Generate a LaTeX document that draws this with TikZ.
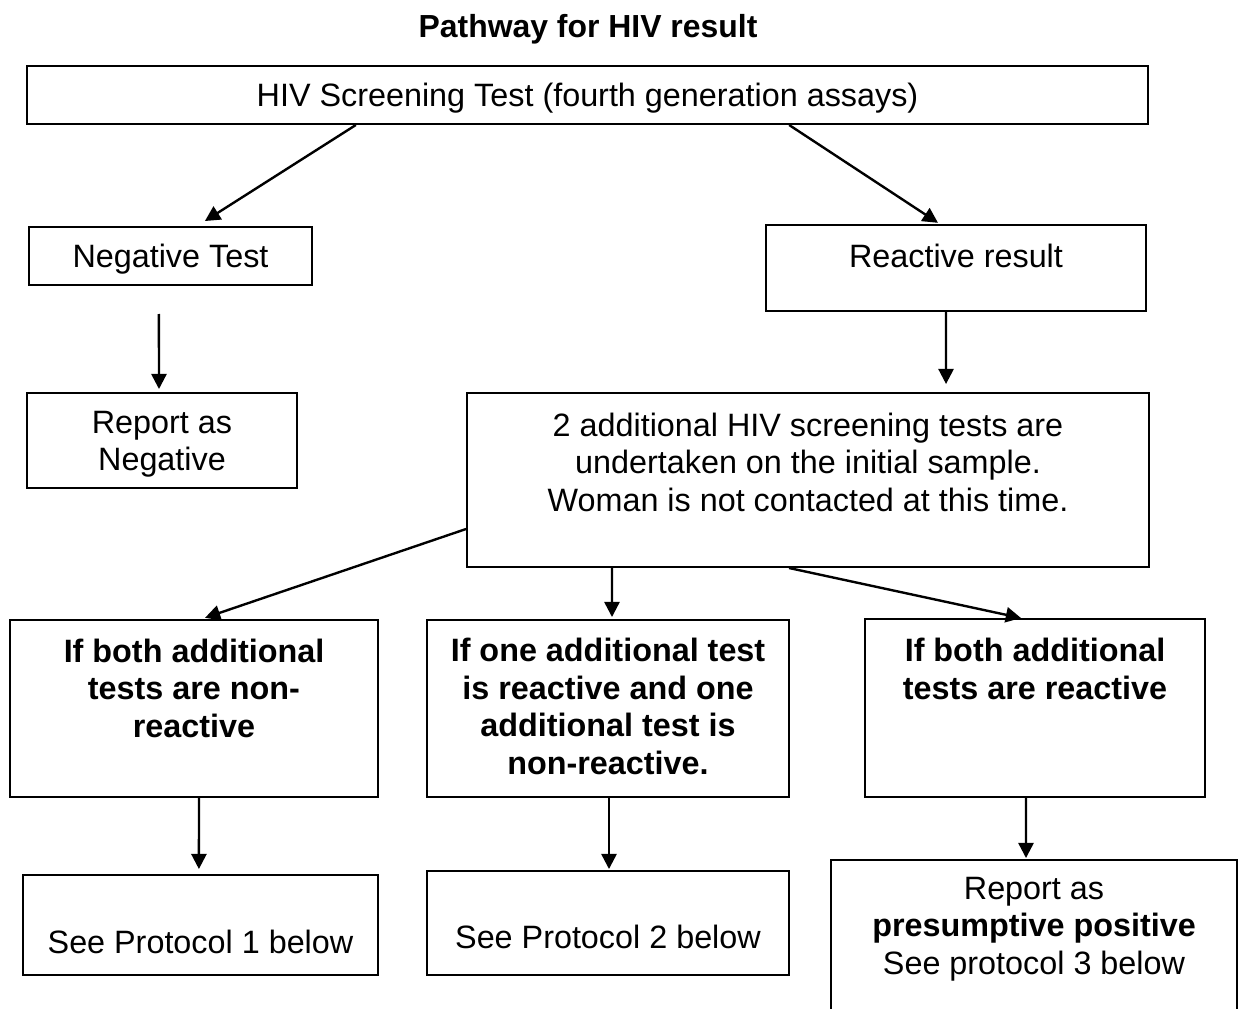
\documentclass[tikz,border=0pt]{standalone}
\usepackage{fontspec}
\setmainfont{Liberation Sans}
\usetikzlibrary{arrows.meta,positioning}

\begin{document}
\begin{tikzpicture}[
    x=0.025cm, y=-0.025cm,
    fbox/.style 2 args={
      rectangle, draw, line width=1.4pt, inner sep=0pt,
      minimum width=#1*0.025cm, minimum height=#2*0.025cm
    },
    txt/.style={align=center, inner sep=0pt, font=\fontsize{23}{26.7}\selectfont},
    btxt/.style={txt, font=\fontsize{23}{26.7}\selectfont\bfseries},
    arr/.style={-{Triangle[length=0.38cm,width=0.38cm]}, line width=1.7pt},
  ]
  \useasboundingbox (0,0) rectangle (1242,1008);

  %% --- title ---
  \node[font=\fontsize{22.7}{26}\selectfont\bfseries] (title) at (588,29) {Pathway for HIV result};

  %% --- screening ---
  \node[fbox={1121}{58}] (scr) at (587.5,95) {};
  \node[txt] (scrt) at (587.5,98) {HIV Screening Test (fourth generation assays)};

  \node[fbox={283}{58}] (neg) at (170.5,256) {};
  \node[txt] (negt) at (170.5,259) {Negative Test};
  \node[fbox={380}{86}] (rea) at (956,268) {};
  \node[txt] (reat) at (956,256) {Reactive result};

  \node[fbox={270}{95}] (rneg) at (162,440.5) {};
  \node[txt] (rnegt) at (162,444) {Report as\\Negative};
  \node[fbox={682}{174}] (add) at (808,480) {};
  \node[txt] (addt) at (808,462) {2 additional HIV screening tests are\\undertaken on the initial sample.\\Woman is not contacted at this time.};

  %% --- outcomes ---
  \node[fbox={368}{177}] (bA) at (194,708.5) {};
  \node[btxt] (bAt) at (194,688) {If both additional\\tests are non-\\reactive};
  \node[fbox={362}{177}] (bB) at (608,708.5) {};
  \node[btxt] (bBt) at (608,706.5) {If one additional test\\is reactive and one\\additional test is\\non-reactive.};
  \node[fbox={340}{178}] (bC) at (1035,708) {};
  \node[btxt] (bCt) at (1035,669) {If both additional\\tests are reactive};

  \node[fbox={355}{100}] (p1) at (200.5,925) {};
  \node[txt] (p1t) at (200.5,942) {See Protocol 1 below};
  \node[fbox={362}{104}] (p2) at (608,923) {};
  \node[txt] (p2t) at (608,937) {See Protocol 2 below};
  \node[fbox={406}{170}] (p3) at (1034,945) {};
  \node[txt] (p3t) at (1034,929) {Report as\\\textbf{presumptive positive}\\See protocol 3 below};

  %% --- arrows ---
  \draw[arr] ([xshift=-5.79cm]scr.south) -- ([xshift=0.86cm,yshift=0.125cm]neg.north);
  \draw[arr] ([xshift=5.04cm]scr.south) -- ([xshift=-0.45cm,yshift=0.03cm]rea.north);
  \draw[arr] ([xshift=-0.29cm,yshift=-0.7cm]neg.south) -- ([xshift=-0.075cm,yshift=0.075cm]rneg.north);
  \draw[arr] ([xshift=-0.25cm]rea.south) -- ([xshift=3.45cm,yshift=0.2cm]add.north);
  \draw[arr] ([yshift=-1.225cm]add.west) -- ([xshift=0.275cm,yshift=0.03cm]bA.north);
  \draw[arr] ([xshift=-4.9cm]add.south) -- ([xshift=0.1cm,yshift=0.05cm]bB.north);
  \draw[arr] ([xshift=-0.475cm]add.south) -- ([xshift=-0.35cm]bC.north);
  \draw[arr] ([xshift=0.125cm]bA.south) -- ([xshift=-0.04cm,yshift=0.125cm]p1.north);
  \draw[arr] ([xshift=0.025cm]bB.south) -- ([xshift=0.025cm,yshift=0.025cm]p2.north);
  \draw[arr] ([xshift=-0.225cm]bC.south) -- ([xshift=-0.2cm,yshift=0.025cm]p3.north);
\end{tikzpicture}
\end{document}
